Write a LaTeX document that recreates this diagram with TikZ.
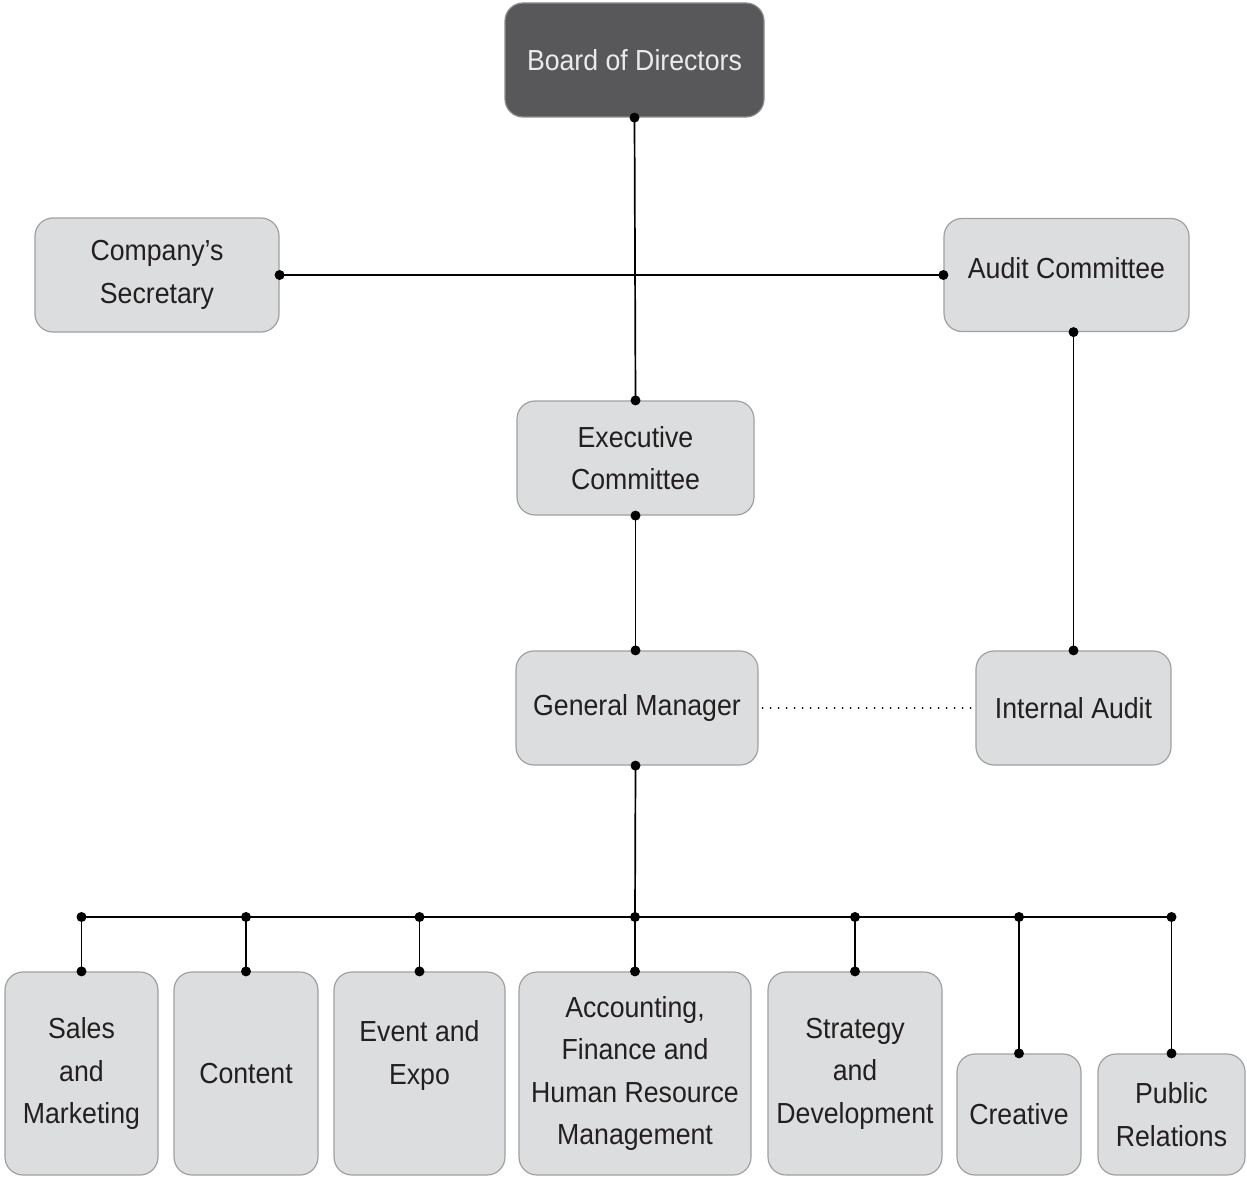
\documentclass[tikz,border=0pt]{standalone}
\usepackage{fontspec}
\setmainfont[FakeStretch=0.92]{Liberation Sans}
\definecolor{boxfill}{HTML}{DCDDDE}
\definecolor{boxline}{HTML}{A0A0A0}
\definecolor{darkfill}{HTML}{58585A}
\definecolor{darkline}{HTML}{8C8C8C}
\definecolor{txt}{HTML}{231F20}
\tikzset{
  unitbox/.style={draw=boxline, fill=boxfill, line width=1.2pt, rounded corners=18pt,
    align=center, text=txt, inner sep=0pt,
    font=\fontsize{29}{42.5}\selectfont},
  darkbox/.style={unitbox, draw=darkline, fill=darkfill, text=white!92!black},
  link/.style={line width=1.7pt, black},
  dotlink/.style={line width=1.9pt, line cap=round, dash pattern=on 0pt off 8pt},
  jdot/.style={circle, fill=black, inner sep=0pt, minimum size=10pt}
}
\begin{document}
\begin{tikzpicture}[x=1pt,y=-1pt]
\useasboundingbox (0,0) rectangle (1247,1177);
\node[darkbox, minimum width=259pt, minimum height=114pt] (board) at (634.5,60) {Board of Directors};
\node[unitbox, minimum width=244pt, minimum height=114pt] (sec) at (157,275) {Company’s\\Secretary};
\node[unitbox, minimum width=245pt, minimum height=113pt] (audit) at (1066.5,275) {Audit Committee\\[-28pt]\mbox{}};
\node[unitbox, minimum width=237pt, minimum height=114pt] (exec) at (635.5,458) {Executive\\Committee};
\node[unitbox, minimum width=242pt, minimum height=114pt] (gm) at (637,708) {General Manager};
\node[unitbox, minimum width=195pt, minimum height=114pt] (ia) at (1073.5,708) {Internal Audit};
\node[unitbox, minimum width=153pt, minimum height=203pt] (sales) at (81.5,1073.5) {Sales\\and\\Marketing};
\node[unitbox, minimum width=144pt, minimum height=203pt] (content) at (246,1073.5) {Content};
\node[unitbox, minimum width=171pt, minimum height=203pt] (event) at (419.5,1073.5) {Event and\\Expo\\\mbox{}};
\node[unitbox, minimum width=232pt, minimum height=203pt] (acct) at (635,1073.5) {Accounting,\\Finance and\\Human Resource\\Management};
\node[unitbox, minimum width=174pt, minimum height=203pt] (strat) at (855,1073.5) {Strategy\\and\\Development};
\node[unitbox, minimum width=124pt, minimum height=121pt] (creative) at (1019,1114.5) {Creative};
\node[unitbox, minimum width=147pt, minimum height=121pt] (pr) at (1171.5,1114.5) {Public\\Relations};
\coordinate (bus) at (635,917);

% connectors
\draw[link] (board.south) -- (exec.north);
\draw[link] (sec.east) -- (audit.west);
\draw[link] (audit.south -| ia.north) -- (ia.north);
\draw[link] (exec.south) -- (exec.south |- gm.north);
\draw[dotlink] (gm.east) ++(4pt,0) -- (ia.west);
\draw[link] (exec.south |- gm.south) -- (bus);
\draw[link] (sales.north |- bus) -- (pr.north |- bus);
\foreach \n in {sales,content,event,acct,strat,creative,pr}{
  \draw[link] (\n.north |- bus) -- (\n.north);
  \node[jdot] at (\n.north |- bus) {};
  \node[jdot] at (\n.north) {};
}
\node[jdot] at (board.south) {};
\node[jdot] at (exec.north) {};
\node[jdot] at (sec.east) {};
\node[jdot] at (audit.west) {};
\node[jdot] at (audit.south -| ia.north) {};
\node[jdot] at (ia.north) {};
\node[jdot] at (exec.south) {};
\node[jdot] at (exec.south |- gm.north) {};
\node[jdot] at (exec.south |- gm.south) {};
\end{tikzpicture}
\end{document}
